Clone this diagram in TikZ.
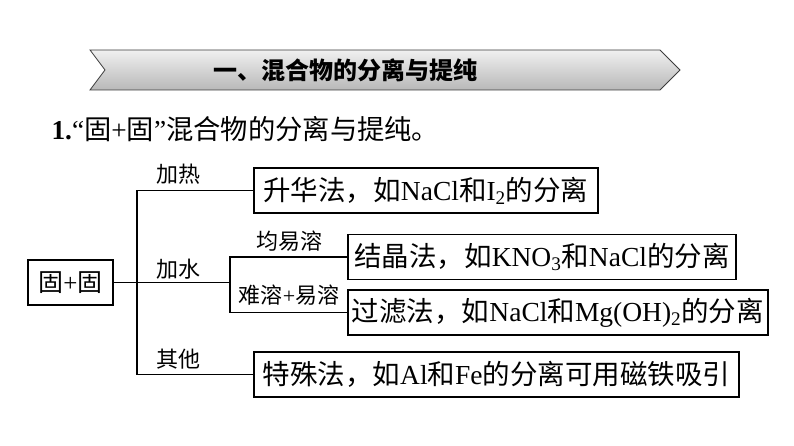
\documentclass[tikz,border=0pt]{standalone}
\usepackage{fontspec}
\setmainfont{Liberation Serif}
\newfontfamily\cjk{Noto Sans CJK SC}
\newcommand{\zh}[1]{{\cjk #1}}
\definecolor{bannertop}{HTML}{F0F0F0}
\definecolor{bannerbot}{HTML}{B8B8B8}
\definecolor{banneredge}{HTML}{3C3C3C}

\tikzset{
  box/.style={draw, line width=1.8pt, minimum height=45pt, inner sep=0pt,
    font=\fontsize{27.5}{27.5}\selectfont, anchor=west},
  tag/.style={font=\fontsize{22}{22}\selectfont, inner sep=0pt},
  link/.style={line width=1.8pt},
}

\begin{document}
\begin{tikzpicture}[x=1pt,y=-1pt]
  \useasboundingbox (0,0) rectangle (794,446);
  % banner
  \shade [top color=bannertop, bottom color=bannerbot, draw=banneredge, line width=0.8pt]
    (90,50) -- (660,50) -- (680,70) -- (660,90) -- (90,90) -- (105,70) -- cycle;
  \node (title) at (345,70) {\fontsize{24}{24}\selectfont\cjk\bfseries 一、混合物的分离与提纯};
  \node [anchor=west, font=\fontsize{27.3}{27.3}\selectfont] (head) at (48,129)
    {\textbf{1.}“\zh{固}+\zh{固}”\zh{混合物的分离与提纯。}};

  % tree
  \node [box, anchor=center, minimum width=85pt, font=\fontsize{25}{25}\selectfont] (root) at (70.5,282.5) {\zh{固}+\zh{固}};
  \node [box, minimum width=344pt] (sublim) at (253,190.5) {\zh{升华法，如}NaCl\zh{和}I\textsubscript{2}\zh{的分离}};
  \node [box, minimum width=388pt] (cryst) at (347,257) {\zh{结晶法，如}KNO\textsubscript{3}\zh{和}NaCl\zh{的分离}};
  \node [box, minimum width=420pt] (filt) at (347,312.5) {\zh{过滤法，如}NaCl\zh{和}Mg(OH)\textsubscript{2}\zh{的分离}};
  \node [box, minimum width=485pt] (magnet) at (253,374.5) {\zh{特殊法，如}Al\zh{和}Fe\zh{的分离可用磁铁吸引}};

  \coordinate (trunk) at (137,282.5);
  \coordinate (fork) at (230,282.5);
  \draw [link] (root.east) -- (trunk);
  \draw [link] (sublim.west) -| (trunk) |- (magnet.west);
  \draw [link] (trunk) -- (fork);
  \draw [link] (cryst.west) -| (fork) |- (filt.west);

  % labels
  \node [tag] (heat) at (178,174) {\zh{加热}};
  \node [tag] (water) at (178,269) {\zh{加水}};
  \node [tag] (other) at (178,359) {\zh{其他}};
  \node [tag] (solall) at (289,241) {\zh{均易溶}};
  \node [tag] (solmix) at (289,295) {\zh{难溶}+\zh{易溶}};
\end{tikzpicture}
\end{document}
